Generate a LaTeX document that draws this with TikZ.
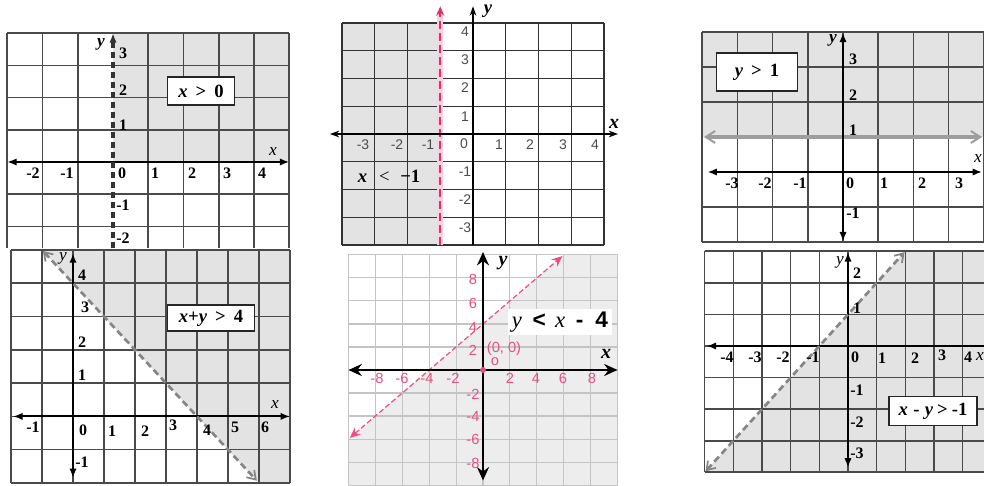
\documentclass[tikz,border=0pt]{standalone}
\usepackage{fontspec}
\setmainfont{Liberation Serif}
\setsansfont{Liberation Sans}
\usetikzlibrary{arrows.meta}
\definecolor{shadeg}{HTML}{E3E3E3}
\definecolor{gridg}{HTML}{4A4A4A}
\definecolor{pinkc}{HTML}{E8507E}
\definecolor{redl}{HTML}{E0306A}
\definecolor{lgrid}{HTML}{C4C4C4}
\definecolor{shadep}{HTML}{EDEDED}
\definecolor{lineg}{HTML}{858585}
\begin{document}
\begin{tikzpicture}[x=0.75pt,y=-0.75pt,
  gridA/.style={draw=gridg,line width=1.2pt},
  gridC/.style={draw=black!80,line width=0.9pt},
  gridD/.style={draw=lgrid,line width=0.8pt},
  axisA/.style={draw=black,line width=1.5pt},
  tipA/.style={arrows={Latex[length=7pt,width=5.5pt]-Latex[length=7pt,width=5.5pt]}},
  dashA/.style={draw=black!80,line width=2.4pt,dash pattern=on 5pt off 2.5pt},
  dashG/.style={draw=lineg,line width=2pt,dash pattern=on 5pt off 3pt,
     arrows={Straight Barb[length=6pt,width=8pt,line width=1.3pt]-Straight Barb[length=6pt,width=8pt,line width=1.3pt]}},
  numA/.style={font=\fontsize{12}{14}\selectfont\bfseries,inner sep=0pt},
  numC/.style={font=\sffamily\fontsize{10.5}{12}\selectfont,text=black!70,inner sep=0pt},
  numD/.style={font=\sffamily\fontsize{11}{12}\selectfont,text=pinkc,inner sep=0pt},
  letA/.style={font=\fontsize{13}{14}\selectfont\itshape,inner sep=0pt},
  boxA/.style={draw=black!85,fill=white,line width=1.1pt,inner sep=0pt,
     font=\fontsize{14}{16}\selectfont\bfseries}]
\useasboundingbox (0,0) rectangle (984,485);
\fill[white] (0,0) rectangle (984,485);

% ---------------- Panel 1: x > 0
\begin{scope}[shift={(113,162)},x=26.44pt,y=24.15pt]
  \fill[shadeg] (0,0) rectangle (5,4);
  \foreach \i in {-3,-2,-1,1,2,3,4,5} \draw[gridA] (\i,-2.68) -- (\i,4);
  \foreach \j in {-2,-1,1,2,3,4} \draw[gridA] (-3,\j) -- (5,\j);
  \draw[axisA,tipA] (-3,0) -- (5,0);
  \draw[dashA,-{Latex[length=7pt,width=5.5pt]}] (0,-2.68) -- (0,4);
\end{scope}
\foreach \t/\px [count=\k] in {-2/33,-1/67,0/122,1/155,2/192,3/227,4/262}
  \node[numA] (pax\k) at (\px,173) {\t};
\foreach \t/\py [count=\k] in {3/53,2/90,1/125,-1/205,-2/238}
  \node[numA] (pay\k) at (123,\py) {\t};
\node[letA] (pa-x) at (273,152) {x};
\node[letA,font=\fontsize{13}{14}\selectfont\bfseries\itshape] (pa-y) at (101,44) {y};
\node[boxA,minimum width=50pt,minimum height=21pt] (pa-box) at (201,91)
  {\textit{x}\hspace{6pt}>\hspace{6pt}0};

% ---------------- Panel 2: x + y > 4
\begin{scope}[shift={(73,416.4)},x=23.25pt,y=24.96pt]
  \fill[shadeg] (-1,5) -- (6,-2) -- (7,-2) -- (7,5) -- cycle;
  \foreach \i in {-2,...,7} \draw[gridA] (\i,-2) -- (\i,5);
  \foreach \j in {-2,...,5} \draw[gridA] (-2,\j) -- (7,\j);
  \draw[axisA,tipA] (-1.93,0) -- (7,0);
  \draw[axisA,tipA] (0,4.9) -- (0,-1.85);
  \draw[dashG] (-0.97,4.97) -- (5.93,-1.93);
\end{scope}
\foreach \t/\px/\py [count=\k] in {-1/33/427,0/83/430,1/112/431,2/145/431,3/173/425,4/207/430,5/235/427,6/265/427}
  \node[numA] (pbx\k) at (\px,\py) {\t};
\foreach \t/\px/\py [count=\k] in {4/82/275,3/85/307,2/82/342,1/82/375,-1/82/462}
  \node[numA] (pby\k) at (\px,\py) {\t};
\node[letA] (pb-x) at (275,405) {x};
\node[letA] (pb-y) at (63,258) {y};
\node[boxA,minimum width=65pt,minimum height=19.5pt] (pb-box) at (211,318)
  {\textit{x}+\textit{y}\hspace{6pt}>\hspace{6pt}4};

% ---------------- Panel 3: x < -1
\begin{scope}[shift={(473,134)},x=24.56pt,y=20.81pt]
  \fill[shadeg] (-4,-4) rectangle (-1,4);
  \foreach \i in {-4,-3,-2,0,1,2,3,4} \draw[gridC] (\i,-4) -- (\i,4);
  \foreach \j in {-4,...,4} \draw[gridC] (-4,\j) -- (4,\j);
  \draw[pinkc!25,line width=4.5pt] (-1,-4) -- (-1,4.45);
  \draw[redl,line width=1.6pt,dash pattern=on 6pt off 3pt,-{Stealth[length=7pt,width=6pt]}] (-1,-4) -- (-1,4.6);
  \draw[black,line width=0.9pt,{Stealth[length=7pt,width=5pt]}-{Stealth[length=7pt,width=5pt]}] (-4.37,0) -- (4.43,0);
  \draw[black,line width=0.9pt,-{Stealth[length=7pt,width=5pt]}] (0,-4) -- (0,4.6);
\end{scope}
\foreach \t/\px/\py [count=\k] in {-3/363/145,-2/397/145,-1/428/145,0/464/144,1/499/145,2/530/145,3/563/145,4/595/145}
  \node[numC] (pcx\k) at (\px,\py) {\t};
\foreach \t/\py [count=\k] in {4/32,3/60,2/88,1/117,-1/172,-2/200,-3/228}
  \node[numC] (pcy\k) at (465,\py) {\t};
\node[letA,font=\fontsize{15}{16}\selectfont\bfseries\itshape] (pc-x) at (614,124) {x};
\node[letA,font=\fontsize{14}{15}\selectfont\bfseries\itshape] (pc-y) at (488,11) {y};
\node[font=\fontsize{14}{16}\selectfont,inner sep=0pt] (pc-lab) at (389,176)
  {\textbf{\textit{x}}\hspace{9pt}<\hspace{8pt}\textbf{−1}};

% ---------------- Panel 4: y < x - 4
\begin{scope}[shift={(483,370)},x=10.09pt,y=8.63pt]
  \fill[shadep] (-10,-10) rectangle (10,10);
  \fill[white] (-10,-6) -- (6,10) -- (-10,10) -- cycle;
  \foreach \i in {-10,-8,...,10} \draw[gridD] (\i,-10) -- (\i,10);
  \foreach \j in {-10,-8,...,10} \draw[gridD] (-10,\j) -- (10,\j);
  \draw[pinkc,line width=0.9pt,dash pattern=on 4pt off 2pt,
    {Stealth[length=8pt,width=7pt]}-{Stealth[length=8pt,width=7pt]}] (-9.9,-5.9) -- (5.9,9.9);
  \draw[black,line width=1.6pt,{Stealth[length=10pt,width=9pt]}-{Stealth[length=10pt,width=9pt]}] (-10,0) -- (10,0);
  \draw[black,line width=1.6pt,{Stealth[length=10pt,width=9pt]}-{Stealth[length=10pt,width=9pt]}] (0,-9.6) -- (0,10.25);
  \fill[pinkc] (0,0) circle (2.2pt);
\end{scope}
\foreach \t/\px [count=\k] in {-8/377,-6/402,-4/427,-2/453,2/510,4/536,6/563,8/592}
  \node[numD] (pdx\k) at (\px,378) {\t};
\foreach \t/\py [count=\k] in {8/279,6/303,4/327,2/350,-2/394,-4/416,-6/439,-8/463}
  \node[numD] (pdy\k) at (473,\py) {\t};
\node[numD] (pd-o1) at (504,349) {(0, 0)};
\node[numD] (pd-o2) at (495,362) {o};
\node[letA,font=\fontsize{15}{16}\selectfont\bfseries\itshape] (pd-x) at (606,354) {x};
\node[letA,font=\fontsize{15}{16}\selectfont\bfseries\itshape] (pd-y) at (503,263) {y};
\node[fill=white,inner xsep=3pt,inner ysep=2pt,font=\fontsize{17}{18}\selectfont] (pd-lab) at (560,322)
  {\textit{y}\hspace{8pt}\textsf{\textbf{<}}\hspace{7pt}\textit{x}\hspace{8pt}\textsf{\textbf{-}}\hspace{9pt}\textsf{\textbf{4}}};

% ---------------- Panel 5: y > 1
\begin{scope}[shift={(843,172)},x=26.4pt,y=26.25pt]
  \fill[shadeg] (-4,1) rectangle (4,4);
  \foreach \i in {-4,...,4} \draw[gridA] (\i,-2) -- (\i,4);
  \foreach \j in {-2,-1,2,3,4} \draw[gridA] (-4,\j) -- (4,\j);
  \draw[lineg!80,line width=2.4pt,{Straight Barb[length=7pt,width=9pt,line width=1.5pt]}-{Straight Barb[length=7pt,width=9pt,line width=1.5pt]}] (-3.95,1) -- (3.95,1);
  \draw[axisA,tipA] (-3.85,0) -- (3.95,0);
  \draw[axisA,tipA] (0,3.98) -- (0,-1.98);
\end{scope}
\foreach \t/\px [count=\k] in {-3/732,-2/765,-1/800,0/850,1/884,2/922,3/959}
  \node[numA] (pex\k) at (\px,183) {\t};
\foreach \t/\py [count=\k] in {3/59,2/95,1/130,-1/213}
  \node[numA] (pey\k) at (853,\py) {\t};
\node[letA] (pe-x) at (978,159) {x};
\node[letA,font=\fontsize{13}{14}\selectfont\bfseries\itshape] (pe-y) at (833,40) {y};
\node[boxA,minimum width=61pt,minimum height=28.5pt] (pe-box) at (757,72)
  {\textit{y}\hspace{6pt}>\hspace{6pt}1};

% ---------------- Panel 6: x - y > -1
\begin{scope}[shift={(848,346)},x=21.5pt,y=23.68pt]
  \fill[shadeg] (-5,-4) -- (2,3) -- (4.75,3) -- (4.75,-4) -- cycle;
  \foreach \i in {-5,...,4} \draw[gridA] (\i,-4) -- (\i,3);
  \foreach \j in {-4,...,3} \draw[gridA] (-5,\j) -- (4.75,\j);
  \draw[axisA,arrows={Latex[length=7pt,width=5.5pt]-}] (-4.93,0) -- (4.75,0);
  \draw[axisA,tipA] (0,2.97) -- (0,-3.85);
  \draw[dashG] (-4.97,-3.97) -- (1.97,2.97);
\end{scope}
\foreach \t/\px/\py [count=\k] in {-4/727/357,-3/755/357,-2/783/357,-1/813/357,0/855/357,1/882/358,2/915/358,3/942/355,4/968/357}
  \node[numA] (pfx\k) at (\px,\py) {\t};
\foreach \t/\py [count=\k] in {2/273,1/308,-1/390,-2/422,-3/453}
  \node[numA] (pfy\k) at (857,\py) {\t};
\node[letA] (pf-x) at (980,357) {x};
\node[letA] (pf-y) at (840,262) {y};
\node[boxA,minimum width=66pt,minimum height=22pt] (pf-box) at (933,411)
  {\textit{x}\hspace{4pt}-\hspace{4pt}\textit{y}\hspace{3pt}>\hspace{3pt}-1};
\end{tikzpicture}
\end{document}
